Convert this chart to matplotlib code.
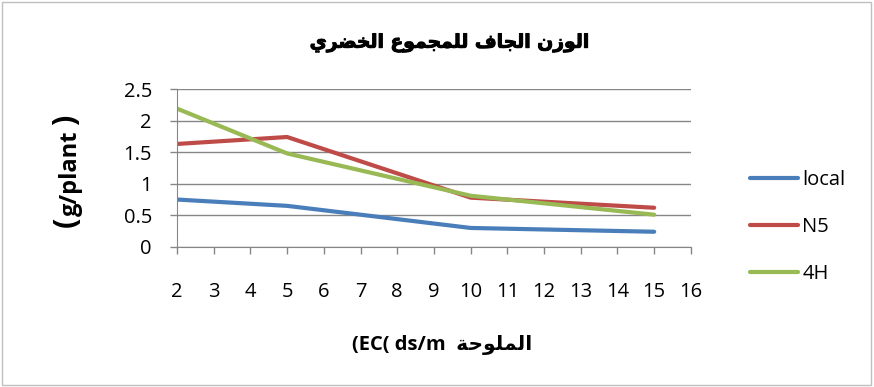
import matplotlib
matplotlib.use("Agg")
import matplotlib.pyplot as plt
from matplotlib.patches import Rectangle
import matplotlib.patheffects as pe

# بيانات الرسم
ec = [2, 5, 10, 15]
local = [0.75, 0.65, 0.30, 0.24]
n5 = [1.63, 1.74, 0.78, 0.62]
h4 = [2.19, 1.48, 0.81, 0.51]
series_names = ["local", "N5", "4H"]
colors = ["#4A7EBB", "#BE4B48", "#98B954"]

title_ar = "الوزن الجاف للمجموع الخضري"
xlabel_ar = "الملوحة"

# تشكيل الحروف العربية يدويا (iso, fin, ini, med)
forms = {
    "ا": ("\uFE8D", "\uFE8E", None, None),
    "ل": ("\uFEDD", "\uFEDE", "\uFEDF", "\uFEE0"),
    "و": ("\uFEED", "\uFEEE", None, None),
    "ز": ("\uFEAF", "\uFEB0", None, None),
    "ن": ("\uFEE5", "\uFEE6", "\uFEE7", "\uFEE8"),
    "ج": ("\uFE9D", "\uFE9E", "\uFE9F", "\uFEA0"),
    "ف": ("\uFED1", "\uFED2", "\uFED3", "\uFED4"),
    "م": ("\uFEE1", "\uFEE2", "\uFEE3", "\uFEE4"),
    "ع": ("\uFEC9", "\uFECA", "\uFECB", "\uFECC"),
    "خ": ("\uFEA5", "\uFEA6", "\uFEA7", "\uFEA8"),
    "ض": ("\uFEBD", "\uFEBE", "\uFEBF", "\uFEC0"),
    "ر": ("\uFEAD", "\uFEAE", None, None),
    "ي": ("\uFEF1", "\uFEF2", "\uFEF3", "\uFEF4"),
    "ح": ("\uFEA1", "\uFEA2", "\uFEA3", "\uFEA4"),
    "ة": ("\uFE93", "\uFE94", None, None),
}


def shape(text):
    out = []
    for word in text.split(" "):
        res = ""
        for i, ch in enumerate(word):
            f = forms.get(ch)
            if f is None:
                res += ch
                continue
            prev = forms.get(word[i - 1]) if i > 0 else None
            nxt = word[i + 1] if i + 1 < len(word) else None
            join_prev = prev is not None and prev[2] is not None
            join_next = nxt is not None and f[2] is not None
            if join_prev and join_next:
                res += f[3]
            elif join_prev:
                res += f[1]
            elif join_next:
                res += f[2]
            else:
                res += f[0]
        out.append(res)
    return " ".join(out)[::-1]


plt.rcParams['font.family'] = ['Open Sans', 'DejaVu Sans']

fig = plt.figure(figsize=(8.74, 3.87), dpi=100)
fig.patches.append(Rectangle((0.002, 0.004), 0.995, 0.992, transform=fig.transFigure,
                             fill=False, edgecolor="#BFBFBF", linewidth=1))
ax = fig.add_axes([0.2025, 0.362, 0.588, 0.408])

for vals, name, c in zip([local, n5, h4], series_names, colors):
    ax.plot(ec, vals, color=c, linewidth=3, label=name, solid_capstyle="round")

ax.set_xlim(2, 16)
ax.set_ylim(0, 2.5)
ax.set_xticks(range(2, 17))
ax.set_yticks([0, 0.5, 1, 1.5, 2, 2.5])
ax.set_yticklabels(["0", "0.5", "1", "1.5", "2", "2.5"])
ax.yaxis.grid(True, color="#868686", linewidth=1)
ax.set_axisbelow(True)
for s in ["top", "right"]:
    ax.spines[s].set_visible(False)
for s in ["left", "bottom"]:
    ax.spines[s].set_color("#868686")
ax.tick_params(axis="both", colors="#868686", labelcolor="black", labelsize=14.5,
               length=5, width=1)
ax.tick_params(axis="x", pad=20)
ax.tick_params(axis="y", pad=13)

fig.text(0.515, 0.888, shape(title_ar), ha="center", va="center",
         fontsize=13.5, fontweight="bold", family=["DejaVu Sans"],
         path_effects=[pe.withStroke(linewidth=0.7, foreground="black")])
fig.text(0.506, 0.108, "(EC( ds/m  " + shape(xlabel_ar), ha="center", va="center",
         fontsize=14.5, fontweight="bold", family=["Open Sans", "DejaVu Sans"])

# عنوان المحور الصادي مع أقواس كبيرة
fig.text(0.081, 0.553, "g/plant", ha="center", va="center", rotation=90,
         fontsize=17, fontweight="bold")
fig.text(0.076, 0.428, "(", ha="center", va="center", rotation=90,
         fontsize=22, fontweight="bold")
fig.text(0.076, 0.690, ")", ha="center", va="center", rotation=90,
         fontsize=22, fontweight="bold")

ax.legend(loc="center left", bbox_to_anchor=(0.858, 0.414), bbox_transform=fig.transFigure,
          frameon=False, fontsize=14.5, handlelength=2.4, labelspacing=1.35,
          handletextpad=0.2, borderpad=0, borderaxespad=0)

fig.savefig("out.png", dpi=100)
